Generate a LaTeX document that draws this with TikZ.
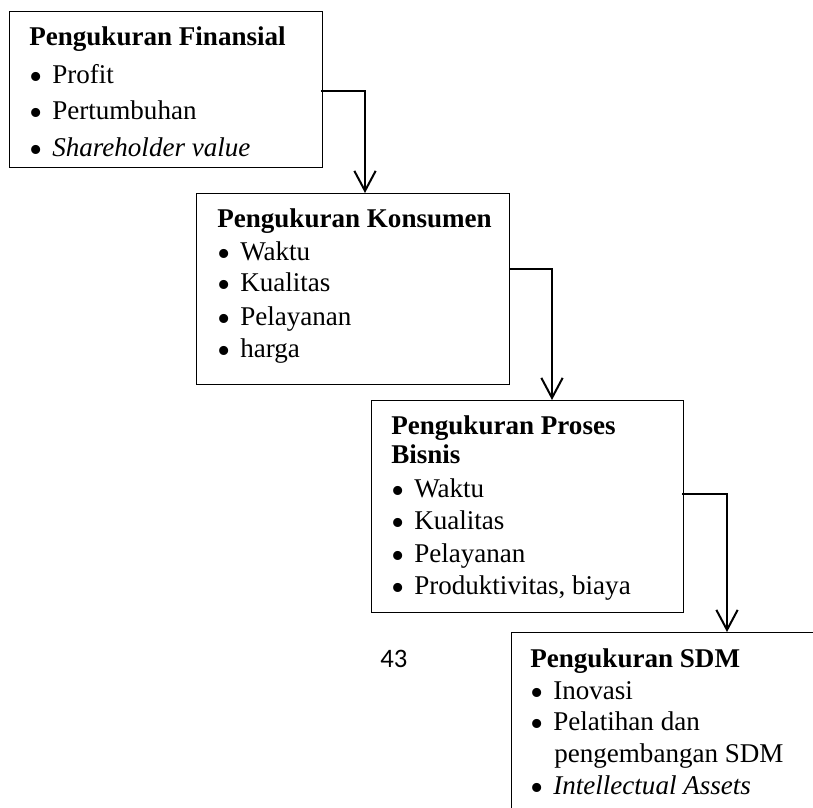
\documentclass[tikz,border=0pt]{standalone}
\usepackage{graphicx}
\usepackage{fontspec}
\setmainfont{Liberation Serif}
\newfontfamily\pagenumfont{Carlito}
\usetikzlibrary{arrows.meta,calc}
\newcommand\itm[1]{\makebox[17.25pt][l]{\smash{\raisebox{-4.5pt}{\scalebox{1.4}{\textbullet}}}}#1}
\begin{document}
\begin{tikzpicture}[x=0.75pt,y=-0.75pt,
  box/.style={draw, line width=0.8pt, inner sep=0pt, anchor=north west},
  txt/.style={anchor=base west, inner sep=0pt, font=\fontsize{20.3}{24}\selectfont},
  head/.style={anchor=base west, inner sep=0pt, font=\fontsize{20.3}{24}\selectfont\bfseries},
  arr/.style={line width=1.5pt, -{Straight Barb[length=15pt,width=16pt,line width=1.5pt]}}]
\useasboundingbox (0,0) rectangle (813,807);
\clip (0,0) rectangle (813,807);

% frames
\node[box, minimum width=234.75pt, minimum height=117pt] (fin) at (9,11) {};
\node[box, minimum width=234.75pt, minimum height=143.25pt] (kon) at (196,193) {};
\node[box, minimum width=234pt, minimum height=159pt] (pro) at (371,400) {};
\node[box, minimum width=235.5pt, minimum height=148.5pt] (sdm) at (511,632) {};

% financial measures
\node[head] (fin-h) at (29,45) {Pengukuran Finansial};
\node[txt] (fin-1) at (29,83) {\itm{Profit}};
\node[txt] (fin-2) at (29,119) {\itm{Pertumbuhan}};
\node[txt] (fin-3) at (29,156) {\itm{\itshape Shareholder value}};

% customer measures
\node[head] (kon-h) at (217,227) {Pengukuran Konsumen};
\node[txt] (kon-1) at (217,260) {\itm{Waktu}};
\node[txt] (kon-2) at (217,291) {\itm{Kualitas}};
\node[txt] (kon-3) at (217,325) {\itm{Pelayanan}};
\node[txt] (kon-4) at (217,357) {\itm{harga}};

% business process measures
\node[head] (pro-h1) at (391,434) {Pengukuran Proses};
\node[head] (pro-h2) at (391,463) {Bisnis};
\node[txt] (pro-1) at (391,497) {\itm{Waktu}};
\node[txt] (pro-2) at (391,529) {\itm{Kualitas}};
\node[txt] (pro-3) at (391,562) {\itm{Pelayanan}};
\node[txt] (pro-4) at (391,594) {\itm{Produktivitas, biaya}};

% human resource measures
\node[head] (sdm-h) at (530,667) {Pengukuran SDM};
\node[txt] (sdm-1) at (530,699) {\itm{Inovasi}};
\node[txt] (sdm-2) at (530,730) {\itm{Pelatihan dan}};
\node[txt] (sdm-3) at (554,762) {pengembangan SDM};
\node[txt] (sdm-4) at (530,794) {\itm{\itshape Intellectual Assets}};

% page number
\node[anchor=base west, inner sep=0pt, font=\pagenumfont\fontsize{20}{24}\selectfont] (pg) at (380,667) {43};

% connectors
\draw[arr] ($(fin.north east)+(-2,80)$) -| ($(kon.north west)+(169,0)$);
\draw[arr] ($(kon.north east)+(-1,76)$) -| ($(pro.north west)+(181,0)$);
\draw[arr] ($(pro.north east)+(-2,94)$) -| ($(sdm.north west)+(216,0)$);
\end{tikzpicture}
\end{document}
